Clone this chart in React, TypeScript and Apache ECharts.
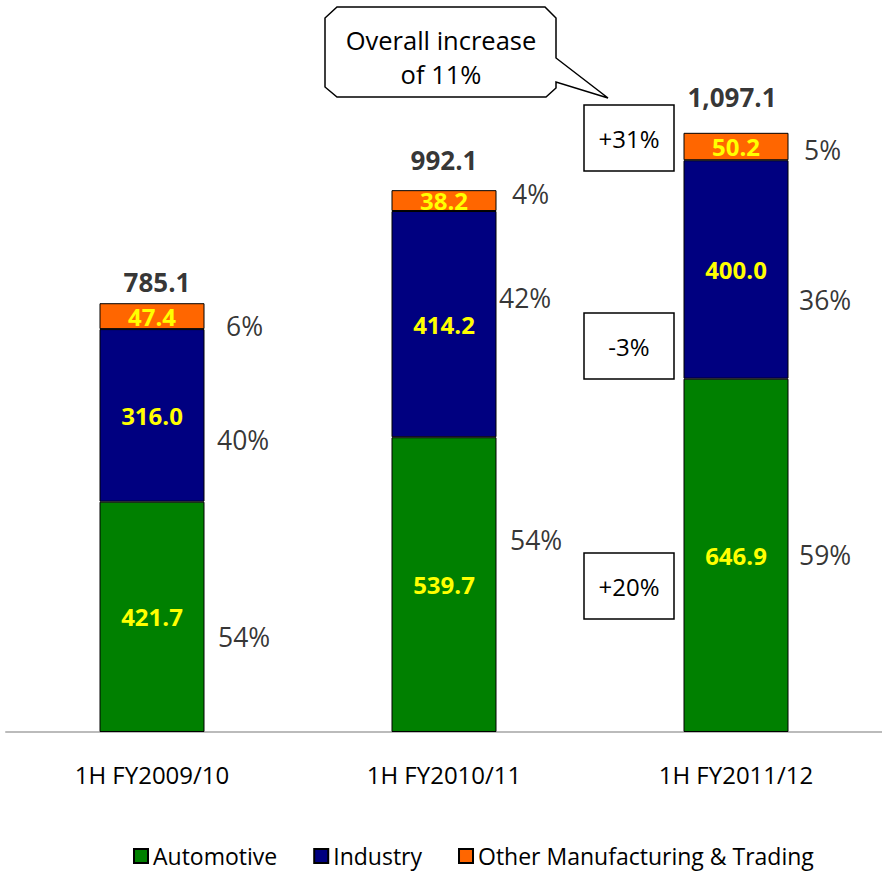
import React, { useEffect, useRef } from "react";
import * as echarts from "echarts";

// Half-year revenue by segment
const periods = ["1H FY2009/10", "1H FY2010/11", "1H FY2011/12"];
const automotive = [421.7, 539.7, 646.9];
const industry = [316.0, 414.2, 400.0];
const otherTrading = [47.4, 38.2, 50.2];
const totals = [785.1, 992.1, 1097.1];

// Segment share of each period's total (%)
const automotivePct = [54, 54, 59];
const industryPct = [40, 42, 36];
const otherPct = [6, 4, 5];

// Year-on-year change per segment, latest period
const growthLabels = ["+31%", "-3%", "+20%"];
const overallNote = ["Overall increase", "of 11%"];

const FONT = "Open Sans";
const GREEN = "#008000";
const NAVY = "#000080";
const ORANGE = "#FF6600";

export default function App() {
  const ref = useRef<HTMLDivElement>(null);

  useEffect(() => {
    if (!ref.current) return;
    const chart = echarts.init(ref.current, null, { renderer: "svg" });

    const fmt1 = (v: number) =>
      v.toLocaleString("en-US", { minimumFractionDigits: 1, maximumFractionDigits: 1 });

    const segLabel = {
      show: true,
      position: "inside",
      color: "#FFFF00",
      fontFamily: FONT,
      fontWeight: "bold",
      fontSize: 24,
      formatter: (p: any) => fmt1(p.value),
    };

    const barStyle = (color: string) => ({
      color,
      borderColor: "#000",
      borderWidth: 1,
    });

    // pixel nudges for the share labels, per period: [dx, dy]
    const nudges = {
      other: [[74, 10], [68, -7], [68, 3]],
      industry: [[65, 25], [55, -26], [63, 31]],
      automotive: [[66, 20], [66, -45], [63, 0]],
    };

    const pctPoints: any[] = [];
    periods.forEach((_, i) => {
      const segs = [
        { mid: automotive[i] / 2, pct: automotivePct[i], n: nudges.automotive[i] },
        { mid: automotive[i] + industry[i] / 2, pct: industryPct[i], n: nudges.industry[i] },
        {
          mid: automotive[i] + industry[i] + otherTrading[i] / 2,
          pct: otherPct[i],
          n: nudges.other[i],
        },
      ];
      segs.forEach((s) => {
        pctPoints.push({
          value: [i, s.mid],
          label: { offset: s.n, formatter: `${s.pct}%` },
        });
      });
    });

    const totalNudges = [[5, -21], [0, -30], [-4, -36]];
    const totalPoints = totals.map((t, i) => ({
      value: [i, t],
      label: { offset: totalNudges[i] },
    }));

    const box = (y: number, text: string) => ({
      type: "group",
      x: 584,
      y,
      children: [
        {
          type: "rect",
          shape: { x: 0, y: 0, width: 90, height: 66 },
          style: { fill: "#fff", stroke: "#000", lineWidth: 1.5 },
        },
        {
          type: "text",
          x: 45,
          y: 33,
          style: {
            text,
            fontFamily: FONT,
            fontSize: 24,
            fill: "#000",
            align: "center",
            verticalAlign: "middle",
          },
        },
      ],
    });

    chart.setOption({
      animation: false,
      grid: { left: 6, right: -3, top: 22, bottom: 140 },
      xAxis: {
        type: "category",
        data: periods,
        axisTick: { show: false },
        axisLine: { lineStyle: { color: "#bbbbbb", width: 2 } },
        axisLabel: { fontFamily: FONT, fontSize: 24, color: "#000", margin: 30 },
      },
      yAxis: {
        type: "value",
        min: 0,
        max: 1300,
        show: false,
        splitLine: { show: false },
      },
      legend: {
        data: ["Automotive", "Industry", "Other Manufacturing & Trading"],
        left: 133,
        top: 844,
        itemWidth: 14,
        itemHeight: 14,
        itemGap: 36,
        icon: "rect",
        padding: 0,
        textStyle: { fontFamily: FONT, fontSize: 23, lineHeight: 24, color: "#000" },
      },
      series: [
        {
          name: "Automotive",
          type: "bar",
          stack: "total",
          barWidth: 105,
          data: automotive,
          itemStyle: barStyle(GREEN),
          label: segLabel,
        },
        {
          name: "Industry",
          type: "bar",
          stack: "total",
          barWidth: 105,
          data: industry,
          itemStyle: barStyle(NAVY),
          label: segLabel,
        },
        {
          name: "Other Manufacturing & Trading",
          type: "bar",
          stack: "total",
          barWidth: 105,
          data: otherTrading,
          itemStyle: barStyle(ORANGE),
          label: segLabel,
        },
        {
          name: "totals",
          type: "scatter",
          symbolSize: 0,
          data: totalPoints,
          silent: true,
          label: {
            show: true,
            position: "inside",
            fontFamily: FONT,
            fontWeight: "bold",
            fontSize: 26,
            color: "#000",
            formatter: (p: any) => fmt1(p.value[1]),
          },
        },
        {
          name: "shares",
          type: "scatter",
          symbolSize: 0,
          data: pctPoints,
          silent: true,
          label: {
            show: true,
            position: "right",
            distance: 0,
            fontFamily: FONT,
            fontSize: 26.5,
            color: "#000",
          },
        },
      ],
      graphic: [
        {
          type: "polygon",
          shape: {
            points: [
              [337, 7],
              [545, 7],
              [556, 18],
              [556, 58],
              [608, 98],
              [556, 82],
              [556, 88],
              [546, 97],
              [337, 97],
              [325, 87],
              [325, 18],
            ],
          },
          style: { fill: "#fff", stroke: "#000", lineWidth: 1.5 },
        },
        {
          type: "text",
          x: 441,
          y: 40,
          style: {
            text: overallNote[0],
            fontFamily: FONT,
            fontSize: 25.5,
            fill: "#000",
            align: "center",
            verticalAlign: "middle",
          },
        },
        {
          type: "text",
          x: 441,
          y: 74,
          style: {
            text: overallNote[1],
            fontFamily: FONT,
            fontSize: 25.5,
            fill: "#000",
            align: "center",
            verticalAlign: "middle",
          },
        },
        box(105, growthLabels[0]),
        box(313, growthLabels[1]),
        box(553, growthLabels[2]),
      ],
    });

    return () => chart.dispose();
  }, []);

  return (
    <div
      ref={ref}
      style={{ position: "absolute", left: 0, top: 0, width: 882, height: 872 }}
    />
  );
}
